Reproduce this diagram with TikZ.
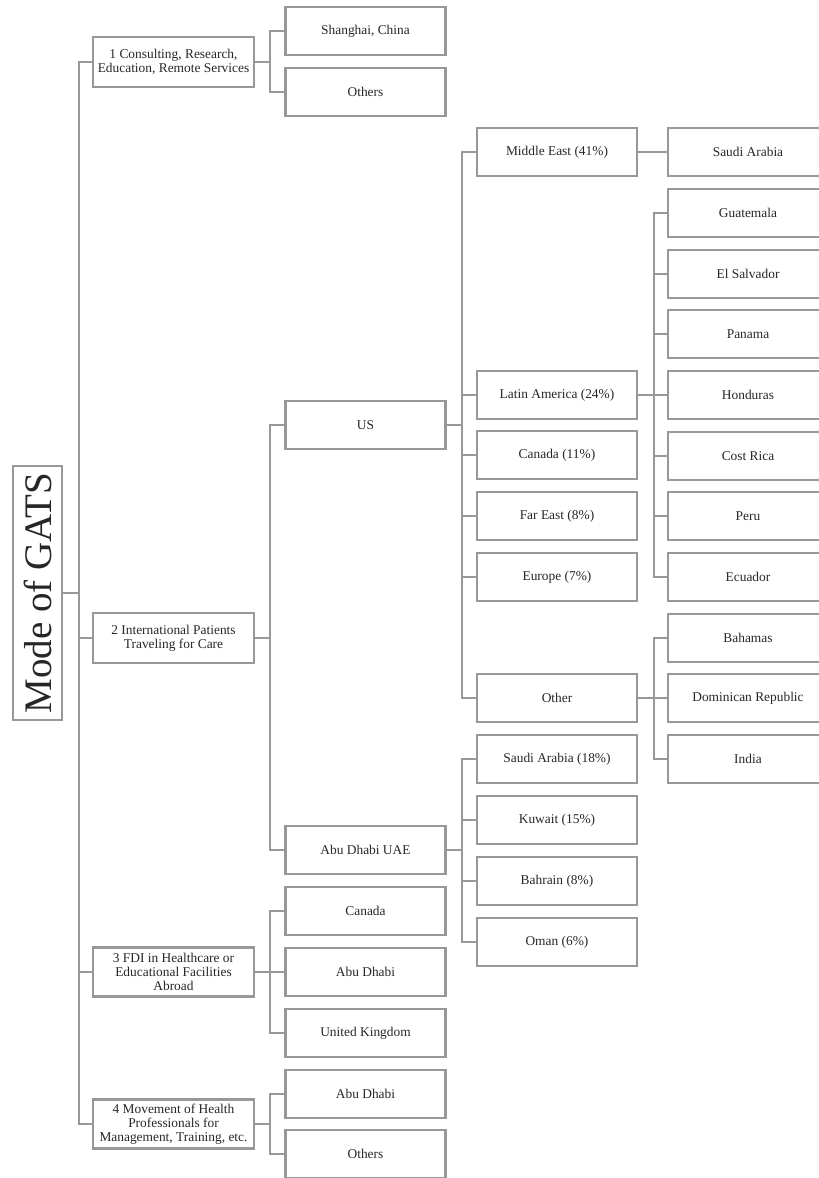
\documentclass[tikz,border=0pt]{standalone}
\usepackage{fontspec}
\setmainfont{Liberation Serif}
\usetikzlibrary{positioning}
\begin{document}
\begin{tikzpicture}[x=1pt, y=-1pt,
    box/.style = {draw=lineGray, line width=2.3pt, minimum width=160pt, minimum height=48pt, inner sep=1pt, align=center, text=black!85, font=\fontsize{13.4}{13.8}\selectfont},
    link/.style = {draw=lineGray, line width=2.3pt}]
    \definecolor{lineGray}{RGB}{152,152,152}
    \useasboundingbox (0,0) rectangle (819,1178);
    % root
    \node[box, rotate=90, minimum width=254pt, minimum height=49pt, font=\fontsize{39}{40}\selectfont] (root) at (37.5,593) {Mode of GATS};
    % modes
    \node[box, minimum width=161pt, minimum height=50pt] (c1) at (173.5,62) {1 Consulting, Research,\\Education, Remote Services};
    \node[box, minimum width=161pt, minimum height=50pt] (c2) at (173.5,638) {2 International Patients\\Traveling for Care};
    \node[box, minimum width=161pt, minimum height=49pt] (c3) at (173.5,972) {3 FDI in Healthcare or\\Educational Facilities\\Abroad};
    \node[box, minimum width=161pt, minimum height=49pt] (c4) at (173.5,1124) {4 Movement of Health\\Professionals for\\Management, Training, etc.};
    % countries
    \node[box] (shanghai) at (365.5,31) {Shanghai, China};
    \node[box] (othersA) at (365.5,92) {Others};
    \node[box] (us) at (365.5,425) {US};
    \node[box] (uae) at (365.5,850) {Abu Dhabi UAE};
    \node[box] (canadaF) at (365.5,911) {Canada};
    \node[box] (abudhabiF) at (365.5,972) {Abu Dhabi};
    \node[box] (uk) at (365.5,1033) {United Kingdom};
    \node[box] (abudhabiM) at (365.5,1094) {Abu Dhabi};
    \node[box] (othersM) at (365.5,1154) {Others};
    % regions
    \node[box] (mideast) at (557,152) {Middle East (41\%)};
    \node[box] (latam) at (557,395) {Latin America (24\%)};
    \node[box] (canadaP) at (557,455) {Canada (11\%)};
    \node[box] (fareast) at (557,516) {Far East (8\%)};
    \node[box] (europe) at (557,577) {Europe (7\%)};
    \node[box] (other) at (557,698) {Other};
    \node[box] (saudiP) at (557,759) {Saudi Arabia (18\%)};
    \node[box] (kuwait) at (557,820) {Kuwait (15\%)};
    \node[box] (bahrain) at (557,881) {Bahrain (8\%)};
    \node[box] (oman) at (557,942) {Oman (6\%)};
    % sources
    \node[box] (saudi) at (748,152) {Saudi Arabia};
    \node[box] (guatemala) at (748,213) {Guatemala};
    \node[box] (elsalvador) at (748,274) {El Salvador};
    \node[box] (panama) at (748,334) {Panama};
    \node[box] (honduras) at (748,395) {Honduras};
    \node[box] (costrica) at (748,456) {Cost Rica};
    \node[box] (peru) at (748,516) {Peru};
    \node[box] (ecuador) at (748,577) {Ecuador};
    \node[box] (bahamas) at (748,638) {Bahamas};
    \node[box] (dominican) at (748,698) {Dominican Republic};
    \node[box] (india) at (748,759) {India};
    % connectors
    \foreach \c in {c1,c2,c3,c4}
        \draw[link] (root.south) -- ++(16,0) |- (\c.west);
    \foreach \c in {shanghai,othersA}
        \draw[link] (c1.east) -- ++(15,0) |- (\c.west);
    \foreach \c in {us,uae}
        \draw[link] (c2.east) -- ++(15,0) |- (\c.west);
    \foreach \c in {canadaF,abudhabiF,uk}
        \draw[link] (c3.east) -- ++(15,0) |- (\c.west);
    \foreach \c in {abudhabiM,othersM}
        \draw[link] (c4.east) -- ++(15,0) |- (\c.west);
    \foreach \c in {mideast,latam,canadaP,fareast,europe,other}
        \draw[link] (us.east) -- ++(15.5,0) |- (\c.west);
    \foreach \c in {saudiP,kuwait,bahrain,oman}
        \draw[link] (uae.east) -- ++(15.5,0) |- (\c.west);
    \draw[link] (mideast.east) -- (saudi.west);
    \foreach \c in {guatemala,elsalvador,panama,honduras,costrica,peru,ecuador}
        \draw[link] (latam.east) -- ++(15.5,0) |- (\c.west);
    \foreach \c in {bahamas,dominican,india}
        \draw[link] (other.east) -- ++(15.5,0) |- (\c.west);
\end{tikzpicture}
\end{document}
